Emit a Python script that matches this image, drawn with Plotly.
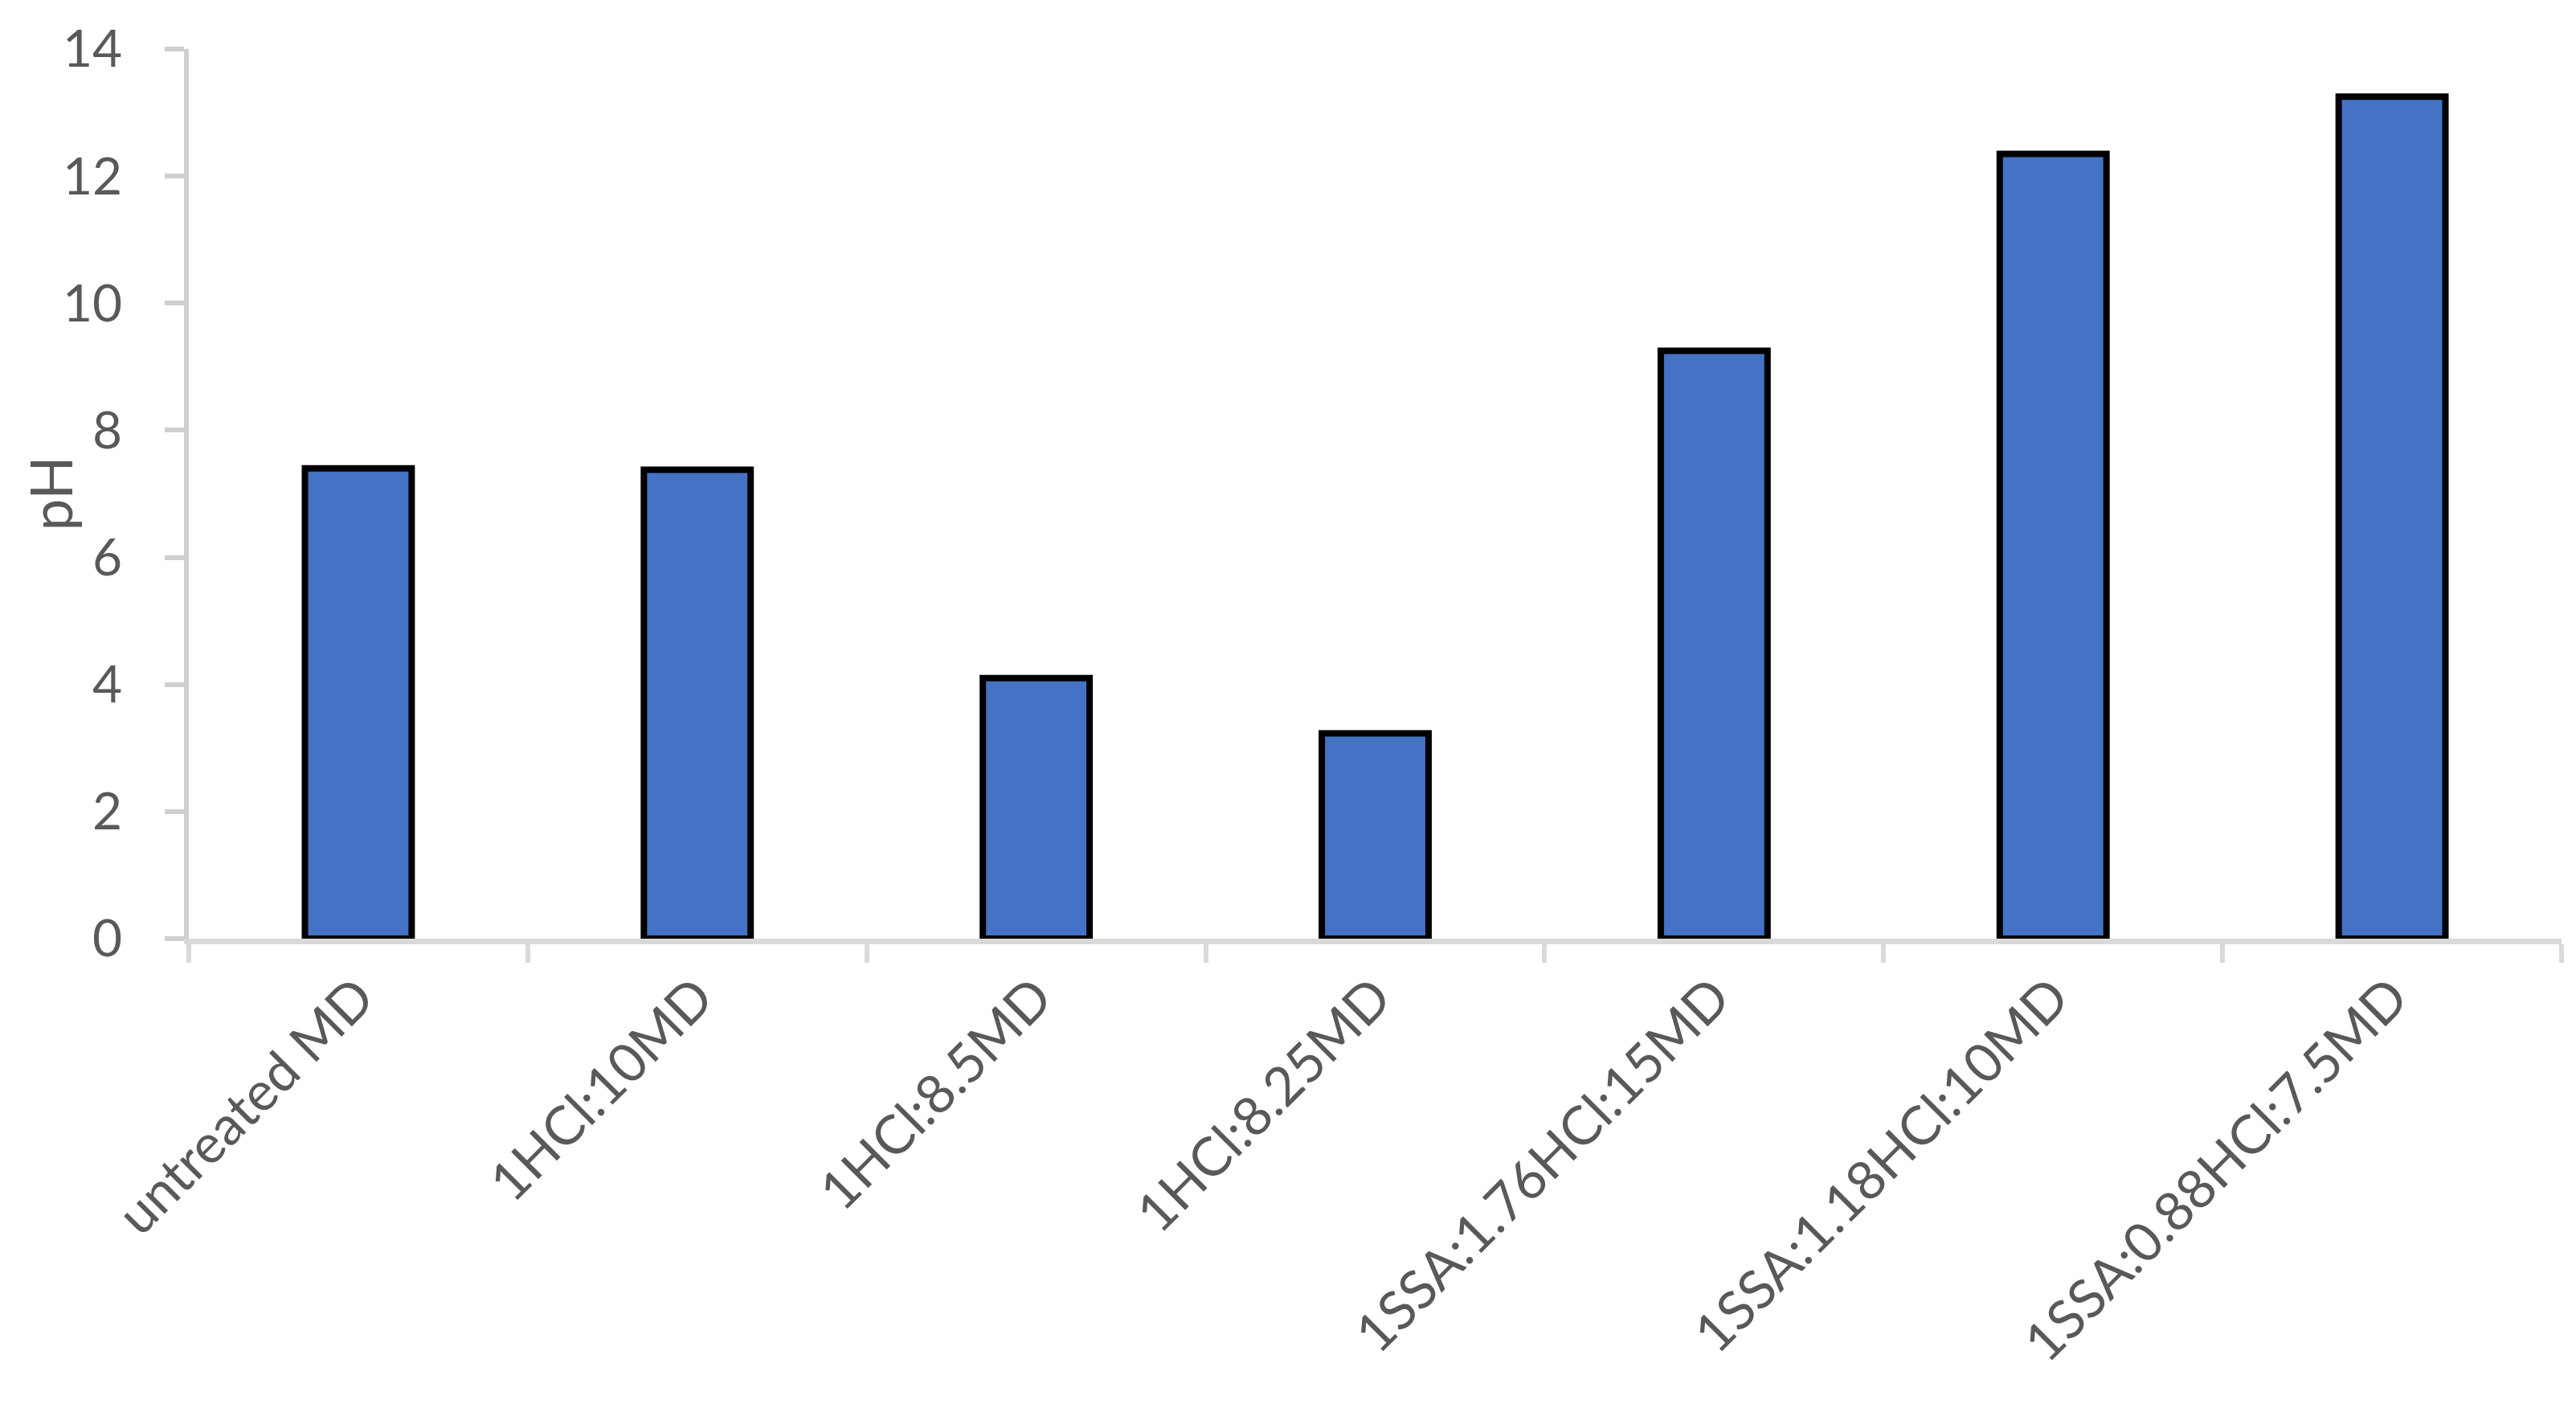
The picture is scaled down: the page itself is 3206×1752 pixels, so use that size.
import plotly.graph_objects as go

# pH of each treatment
treatments = [
    "untreated MD",
    "1HCl:10MD",
    "1HCl:8.5MD",
    "1HCl:8.25MD",
    "1SSA:1.76HCl:15MD",
    "1SSA:1.18HCl:10MD",
    "1SSA:0.88HCl:7.5MD",
]
ph_values = [7.40, 7.38, 4.10, 3.23, 9.25, 12.35, 13.25]
y_ticks = [0, 2, 4, 6, 8, 10, 12, 14]

TEXT = "#595959"
FONT = "Lato"

fig = go.Figure(go.Bar(
    x=treatments,
    y=ph_values,
    marker=dict(color="#4472C4", line=dict(color="black", width=8)),
    width=0.315,
))

# page body adds an 8px offset, so the figure is a bit smaller than the window
fig.update_layout(
    width=3190,
    height=1736,
    margin=dict(l=227, r=10, t=53, b=576),
    plot_bgcolor="white",
    paper_bgcolor="white",
    font=dict(family=FONT, size=64, color=TEXT),
    showlegend=False,
    annotations=[dict(
        text="pH",
        xref="paper", yref="paper",
        x=0, y=0.5, xshift=-173,
        xanchor="center", yanchor="middle",
        textangle=-90, showarrow=False,
        font=dict(family=FONT, size=71, color=TEXT),
    )],
)

fig.update_xaxes(
    tickangle=-45,
    tickson="boundaries",
    ticks="outside",
    ticklen=23,
    tickwidth=6,
    tickcolor="#d9d9d9",
    showline=True,
    linecolor="#d9d9d9",
    linewidth=7,
    showgrid=False,
    tickfont=dict(family=FONT, size=67, color=TEXT),
)

fig.update_yaxes(
    range=[0, 14],
    tickvals=y_ticks,
    ticks="outside",
    ticklen=24,
    tickwidth=6,
    tickcolor="#d0cece",
    showline=True,
    linecolor="#d0cece",
    linewidth=6,
    showgrid=False,
    zeroline=False,
    ticklabelstandoff=40,
    tickfont=dict(family=FONT, size=64, color=TEXT),
)

fig.write_html("out.html")
